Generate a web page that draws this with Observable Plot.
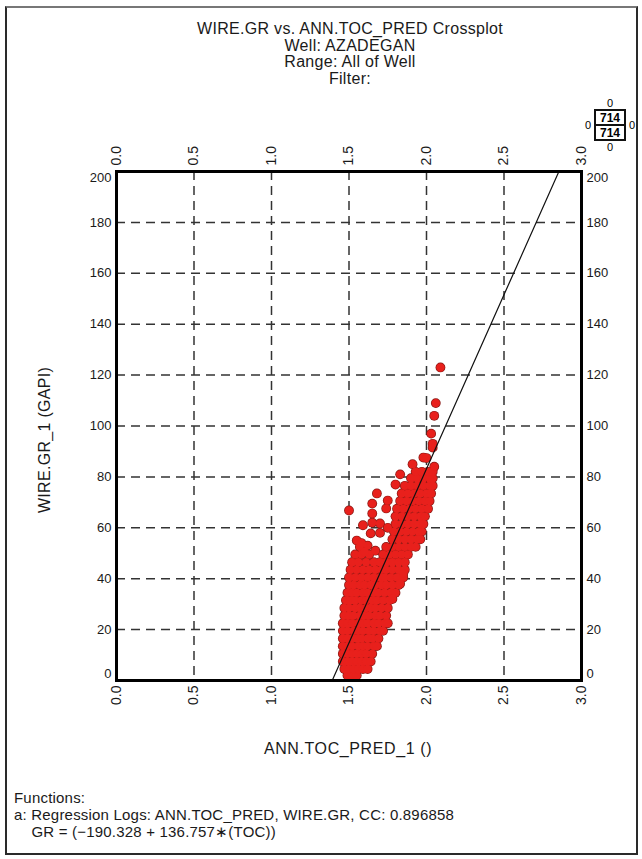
<!DOCTYPE html>
<html><head><meta charset="utf-8">
<script src="https://cdn.jsdelivr.net/npm/d3@7"></script>
<script src="https://cdn.jsdelivr.net/npm/@observablehq/plot@0.6"></script>
<style>
body{margin:0;background:#fff;}
#page{position:relative;width:642px;height:859px;overflow:hidden;font-family:"Liberation Sans",Arial,sans-serif;color:#1a1a1a;background:#fff;}
#border{position:absolute;left:5px;top:6px;width:633px;height:849px;border:2px solid #2a2a2a;border-top-color:#777;box-sizing:border-box;}
#title{position:absolute;left:0;width:700px;top:21px;text-align:center;font-size:16px;line-height:16.7px;letter-spacing:0.3px;}
#title div{white-space:pre;}
#chart{position:absolute;left:0;top:100px;}
#xlabel{position:absolute;left:248px;width:200px;top:740px;text-align:center;font-size:16px;letter-spacing:0.6px;}
#ylabel{position:absolute;left:45px;top:440px;transform:translate(-50%,-50%) rotate(-90deg);white-space:nowrap;font-size:16px;letter-spacing:0.3px;}
#funcs{position:absolute;left:14px;top:789px;font-size:15px;line-height:17px;letter-spacing:0.2px;}
#legend{position:absolute;left:583px;top:97px;overflow:visible;}
</style>
</head><body>
<div id="page">
  <div id="border"></div>
  <div id="title"></div>
  <div id="chart"></div>
  <div id="xlabel"></div>
  <div id="ylabel"></div>
  <div id="funcs"></div>
  <svg id="legend" width="56" height="56"></svg>
</div>
<script>
// ---- text ----
const titleLines = ["WIRE.GR vs. ANN.TOC_PRED Crossplot", "Well: AZADEGAN", "Range: All of Well", "Filter:"];
const xTitle = "ANN.TOC_PRED_1 ()";
const yTitle = "WIRE.GR_1 (GAPI)";
const functionLines = ["Functions:", "a: Regression Logs: ANN.TOC_PRED, WIRE.GR, CC: 0.896858", "    GR = (\u2212190.328 + 136.757\u2217(TOC))"];
const legendCount = ["714", "714"];
const legendZeros = ["0", "0", "0", "0"];

// ---- axes ----
const xDomain = [0, 3];
const yDomain = [0, 200];
const xTicks = [0, 0.5, 1.0, 1.5, 2.0, 2.5, 3.0];
const xGrid = [0.5, 1.0, 1.5, 2.0, 2.5];
const yTicksMid = [20, 40, 60, 80, 100, 120, 140, 160, 180];
const yTickBottom = [0];
const yTickTop = [200];

// ---- regression ----
const regIntercept = -190.328;
const regSlope = 136.757;

// ---- data (TOC, GR) : dense low cluster rows [GR, [TOC...]] ----
const lowRows = [
  [2,   [1.49, 1.52, 1.55]],
  [4.5, [1.47, 1.50, 1.53, 1.56, 1.59, 1.62]],
  [7.5, [1.46, 1.49, 1.52, 1.55, 1.58, 1.61, 1.64]],
  [10.5,[1.46, 1.49, 1.52, 1.55, 1.58, 1.61, 1.65]],
  [13.5,[1.46, 1.49, 1.52, 1.56, 1.59, 1.62, 1.66, 1.68]],
  [16.5,[1.46, 1.49, 1.52, 1.55, 1.58, 1.62, 1.65, 1.69]],
  [19.5,[1.46, 1.49, 1.53, 1.56, 1.59, 1.63, 1.66, 1.70, 1.72]],
  [22.5,[1.46, 1.49, 1.52, 1.56, 1.59, 1.62, 1.66, 1.69, 1.73, 1.75]],
  [25.5,[1.47, 1.50, 1.53, 1.57, 1.60, 1.63, 1.67, 1.70, 1.74]],
  [28.5,[1.47, 1.50, 1.54, 1.57, 1.61, 1.64, 1.67, 1.71, 1.75]],
  [31.5,[1.48, 1.51, 1.54, 1.58, 1.61, 1.65, 1.68, 1.72, 1.76]],
  [34.5,[1.49, 1.52, 1.55, 1.59, 1.62, 1.66, 1.69, 1.73, 1.77, 1.80]],
  [37.5,[1.50, 1.53, 1.57, 1.60, 1.64, 1.67, 1.71, 1.74, 1.78, 1.82]],
  [40.5,[1.50, 1.54, 1.58, 1.62, 1.66, 1.70, 1.73, 1.77, 1.81, 1.85]],
  [43.5,[1.51, 1.55, 1.59, 1.63, 1.67, 1.71, 1.74, 1.78, 1.82, 1.86]],
  [46.5,[1.52, 1.56, 1.61, 1.66, 1.70, 1.74, 1.78, 1.82, 1.86]],
  [49.5,[1.54, 1.58, 1.63, 1.72, 1.76, 1.80, 1.84, 1.88]],
  [52.5,[1.57, 1.74, 1.78, 1.82, 1.86, 1.90, 1.93]]
];
// ---- upper band rows [GR, [TOC...]] ----
const bandRows = [
  [55.5,[1.78, 1.82, 1.86, 1.90, 1.94, 1.96]],
  [58.5,[1.79, 1.83, 1.87, 1.91, 1.95, 1.97]],
  [61.5,[1.80, 1.84, 1.88, 1.92, 1.96, 1.98]],
  [64.5,[1.80, 1.84, 1.88, 1.92, 1.96, 1.99]],
  [67.5,[1.81, 1.85, 1.89, 1.93, 1.97, 2.01]],
  [70.5,[1.83, 1.87, 1.91, 1.95, 1.99, 2.02]],
  [73.5,[1.84, 1.88, 1.92, 1.96, 2.00, 2.03]],
  [76.5,[1.86, 1.90, 1.94, 1.98, 2.02, 2.04]],
  [79.5,[1.90, 1.94, 1.98, 2.02, 2.04]],
  [82,  [1.93, 1.97, 2.01, 2.04]]
];
// ---- scattered points [TOC, GR] ----
const scatterPts = [
  [1.50,66.8],[1.59,61],[1.65,62],[1.70,61.7],[1.75,60],[1.64,57.8],[1.70,58],
  [1.65,69.5],[1.65,65.6],[1.74,67.6],[1.75,70.7],[1.68,73.5],[1.80,77],[1.83,81],
  [1.55,55],[1.58,54],[1.62,53],[1.67,51],[1.60,50.5],[1.83,38],[1.85,42],[1.78,32],
  [1.91,85],[1.98,87.6],[2.00,87.4],[2.05,84],[2.04,91.5],[2.04,93],[2.03,97],
  [2.05,104],[2.06,109],[2.09,123]
];

const points = [];
for (const [g, ts] of lowRows) for (const t of ts) points.push({toc: t, gr: g});
for (const [g, ts] of bandRows) for (const t of ts) points.push({toc: t, gr: g});
for (const [t, g] of scatterPts) points.push({toc: t, gr: g});

const regLine = [
  {toc: (yDomain[0] - regIntercept) / regSlope, gr: yDomain[0]},
  {toc: (yDomain[1] - regIntercept) / regSlope, gr: yDomain[1]}
];

// ---- text blocks ----
document.getElementById("title").innerHTML = titleLines.map(s => `<div>${s}</div>`).join("");
document.getElementById("xlabel").textContent = xTitle;
document.getElementById("ylabel").textContent = yTitle;
document.getElementById("funcs").innerHTML = functionLines.map(s => `<div style="white-space:pre">${s}</div>`).join("");

// ---- legend glyph ----
const lg = d3.select("#legend");
lg.append("rect").attr("x", 12).attr("y", 13).attr("width", 30).attr("height", 30).attr("fill", "none").attr("stroke", "#111").attr("stroke-width", 2);
lg.append("line").attr("x1", 12).attr("x2", 42).attr("y1", 28).attr("y2", 28).attr("stroke", "#111").attr("stroke-width", 2);
legendCount.forEach((s, i) => lg.append("text").attr("x", 27).attr("y", 20.5 + i * 15).attr("dy", "0.36em").attr("text-anchor", "middle").attr("font-size", 12).attr("font-weight", "bold").attr("font-family", "Liberation Sans, Arial, sans-serif").text(s));
const zpos = [[27, 6], [27, 50], [5, 28], [49, 28]];
legendZeros.forEach((s, i) => lg.append("text").attr("x", zpos[i][0]).attr("y", zpos[i][1]).attr("dy", "0.35em").attr("text-anchor", "middle").attr("font-size", 11).attr("font-family", "Liberation Sans, Arial, sans-serif").text(s));

// ---- plot ----
const fmt = d3.format(".1f");
const chart = Plot.plot({
  width: 642,
  height: 680,
  marginLeft: 116,
  marginRight: 61,
  marginTop: 71,
  marginBottom: 100,
  x: {domain: xDomain},
  y: {domain: yDomain},
  style: {fontFamily: "Liberation Sans, Arial, sans-serif", fontSize: "13px", color: "#1a1a1a", background: "transparent", overflow: "visible"},
  marks: [
    Plot.gridX(xGrid, {stroke: "#333", strokeOpacity: 1, strokeWidth: 1.5, strokeDasharray: "9,6"}),
    Plot.gridY(yTicksMid, {stroke: "#333", strokeOpacity: 1, strokeWidth: 1.5, strokeDasharray: "9,6"}),
    Plot.dot(points, {x: "toc", y: "gr", r: 4.9, fill: "#8a1a16", stroke: "none"}),
    Plot.dot(points, {x: "toc", y: "gr", r: 4.2, fill: "#e8201c", stroke: "none"}),
    Plot.line(regLine, {x: "toc", y: "gr", stroke: "#111", strokeWidth: 1.2, clip: true}),
    Plot.frame({stroke: "#000", strokeWidth: 3}),
    Plot.axisX(xTicks, {anchor: "top", tickSize: 0, tickPadding: 6, tickRotate: -90, textAnchor: "start", lineAnchor: "middle", tickFormat: fmt, fontSize: 14, letterSpacing: 1, label: null}),
    Plot.axisX(xTicks, {anchor: "bottom", tickSize: 0, tickPadding: 5, tickRotate: -90, textAnchor: "end", lineAnchor: "middle", tickFormat: fmt, fontSize: 14, letterSpacing: 1, label: null}),
    Plot.axisY(yTicksMid, {anchor: "left", tickSize: 0, tickPadding: 5, label: null}),
    Plot.axisY(yTicksMid, {anchor: "right", tickSize: 0, tickPadding: 5, label: null}),
    Plot.axisY(yTickBottom, {anchor: "left", tickSize: 0, tickPadding: 5, dy: -7, label: null}),
    Plot.axisY(yTickBottom, {anchor: "right", tickSize: 0, tickPadding: 5, dy: -7, label: null}),
    Plot.axisY(yTickTop, {anchor: "left", tickSize: 0, tickPadding: 5, dy: 6, label: null}),
    Plot.axisY(yTickTop, {anchor: "right", tickSize: 0, tickPadding: 5, dy: 6, label: null})
  ]
});
document.getElementById("chart").appendChild(chart);
</script>
</body></html>
